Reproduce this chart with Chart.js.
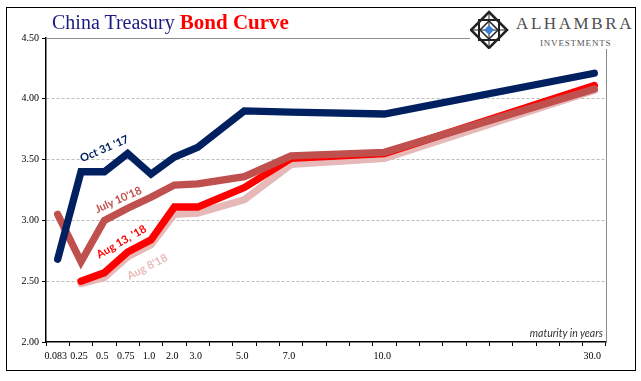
<!DOCTYPE html>
<html>
<head>
<meta charset="utf-8">
<script src="https://cdn.jsdelivr.net/npm/chart.js@4.4.1/dist/chart.umd.min.js"></script>
<style>
	body { margin: 0; background: #fff; }
	#wrap { position: relative; width: 641px; height: 381px; overflow: hidden; }
	#graph { position: absolute; left: 0; top: 0; }
	.frame { position: absolute; left: 6px; top: 7px; width: 630px; height: 364px; box-sizing: border-box; border: 1px solid #000; pointer-events: none; }
	.title { position: absolute; left: 52px; top: 12px; font-family: "Liberation Serif", serif; font-size: 20px; line-height: 20px; white-space: nowrap; }
	.title .a { color: #1c1c80; }
	.title .b { color: #ff0000; font-weight: bold; font-size: 21px; }
	.logo { position: absolute; left: 470px; top: 9px; width: 165px; height: 40px; background: #fff; }
	.logo svg { position: absolute; left: 0; top: 0; }
	.logo .name { position: absolute; left: 46px; top: 6px; font-family: "Liberation Serif", serif; font-size: 17px; line-height: 17px; letter-spacing: 2.6px; color: #4d4d4d; }
	.logo .sub { position: absolute; left: 70px; top: 30px; font-family: "Liberation Serif", serif; font-size: 9px; line-height: 9px; letter-spacing: 0.8px; color: #555; }
	.lbl { position: absolute; font-family: Lato, sans-serif; font-weight: bold; font-size: 11px; white-space: nowrap; transform-origin: center; }
	.axis-note { position: absolute; right: 38px; top: 327px; font-family: Lato, sans-serif; font-style: italic; font-size: 10.5px; color: #333; }
</style>
</head>
<body>
<div id="wrap">
	<canvas id="graph" width="641" height="381"></canvas>
	<div class="title"><span class="a">China Treasury</span> <span class="b">Bond Curve</span></div>
	<div class="logo">
		<svg width="45" height="40" viewBox="0 0 45 40">
			<polygon points="19,3 37,21 19,39 1,21" fill="none" stroke="#222" stroke-width="2.5"/>
			<rect x="9" y="11" width="20" height="20" fill="none" stroke="#222" stroke-width="2"/>
			<polygon points="19,12 28,21 19,30 10,21" fill="none" stroke="#222" stroke-width="1.5"/>
			<line x1="1" y1="21" x2="37" y2="21" stroke="#222" stroke-width="1"/>
			<line x1="19" y1="3" x2="19" y2="39" stroke="#222" stroke-width="1"/>
			<polygon points="19,16 24,21 19,26 14,21" fill="#3d7fd6"/>
		</svg>
		<div class="name">ALHAMBRA</div>
		<div class="sub">INVESTMENTS</div>
	</div>
	<div class="lbl" style="left:104px; top:148px; color:#002060; transform:translate(-50%,-50%) rotate(-23deg);">Oct 31 '17</div>
	<div class="lbl" style="left:118px; top:199px; color:#c0504d; transform:translate(-50%,-50%) rotate(-24deg);">July 10'18</div>
	<div class="lbl" style="left:121px; top:241px; color:#ff0000; transform:translate(-50%,-50%) rotate(-30deg);">Aug 13, '18</div>
	<div class="lbl" style="left:147px; top:266px; color:#e6b9b8; transform:translate(-50%,-50%) rotate(-27deg);">Aug 8'18</div>
	<div class="axis-note">maturity in years</div>
	<div class="frame"></div>
</div>
<script>
// category slots along the x axis (blank slots keep the uneven spacing)
const tickLabels = ["0.083", "0.25", "0.5", "0.75", "1.0", "2.0", "3.0", "", "5.0", "", "7.0", "", "", "", "10.0", "", "", "", "", "", "", "", "", "30.0"];
const maturities = ["0.083", "0.25", "0.5", "0.75", "1.0", "2.0", "3.0", "5.0", "7.0", "10.0", "30.0"];

const oct31_17 = [2.68, 3.40, 3.40, 3.55, 3.38, 3.52, 3.60, 3.90, 3.89, 3.875, 4.21];
const jul10_18 = [3.05, 2.66, 3.00, 3.10, 3.19, 3.29, 3.30, 3.36, 3.53, 3.56, 4.08];
const aug13_18 = [null, 2.50, 2.57, 2.74, 2.84, 3.11, 3.11, 3.27, 3.51, 3.55, 4.11];
const aug8_18 = [null, 2.48, 2.53, 2.70, 2.80, 3.05, 3.06, 3.17, 3.46, 3.51, 4.07];

const points = (vals) => maturities.map((m, i) => ({ x: m, y: vals[i] }));

const line = (label, vals, color) => ({
	label: label,
	data: points(vals),
	borderColor: color,
	backgroundColor: color,
	borderWidth: 7.3,
	pointRadius: 0,
	tension: 0,
	borderCapStyle: "round",
	borderJoinStyle: "miter",
	fill: false,
});

// solid grey top and right edges of the plot
const plotEdges = {
	id: "plotEdges",
	beforeDatasetsDraw(chart) {
		const { ctx, chartArea: a } = chart;
		ctx.save();
		ctx.strokeStyle = "#8c8c8c";
		ctx.lineWidth = 1;
		ctx.beginPath();
		ctx.moveTo(a.left, a.top + 0.5);
		ctx.lineTo(a.right + 0.5, a.top + 0.5);
		ctx.lineTo(a.right + 0.5, a.bottom);
		ctx.stroke();
		ctx.restore();
	},
};

new Chart(document.getElementById("graph"), {
	type: "line",
	data: {
		labels: tickLabels,
		datasets: [
			line("Oct 31 '17", oct31_17, "#002060"),
			line("July 10'18", jul10_18, "#c0504d"),
			line("Aug 13, '18", aug13_18, "#ff0000"),
			line("Aug 8'18", aug8_18, "#e6b9b8"),
		],
	},
	options: {
		responsive: false,
		animation: false,
		devicePixelRatio: 1,
		layout: { padding: { left: 0, right: 35, top: 38, bottom: 0 } },
		plugins: {
			legend: { display: false },
			tooltip: { enabled: false },
		},
		scales: {
			x: {
				type: "category",
				offset: true,
				grid: {
					offset: true,
					drawOnChartArea: false,
					drawTicks: true,
					tickLength: 4,
					tickColor: "#000",
				},
				border: { color: "#000", width: 1.5 },
				ticks: {
					autoSkip: false,
					maxRotation: 0,
					labelOffset: -2,
					padding: 4,
					color: "#000",
					font: { family: "Liberation Serif", size: 10 },
				},
				afterFit: (s) => { s.height = 39; },
			},
			y: {
				min: 2,
				max: 4.5,
				grid: {
					color: (c) => (c.tick && (c.tick.value === 4.5 || c.tick.value === 2) ? "rgba(0,0,0,0)" : "#bdbdbd"),
					lineWidth: 1,
					drawTicks: true,
					tickLength: 4,
					tickColor: "#000",
				},
				border: { color: "#000", width: 1.5, dash: [3, 2] },
				ticks: {
					stepSize: 0.5,
					padding: 3,
					color: "#000",
					font: { family: "Liberation Serif", size: 10 },
					callback: (v) => v.toFixed(2),
				},
				afterFit: (s) => { s.width = 46; },
			},
		},
	},
	plugins: [plotEdges],
});
</script>
</body>
</html>
